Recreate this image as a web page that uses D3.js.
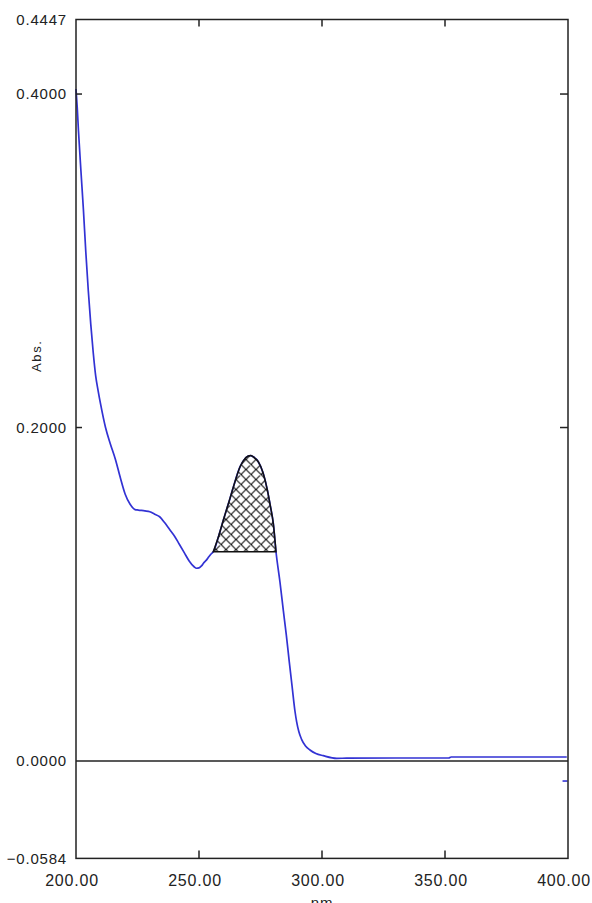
<!DOCTYPE html>
<html>
<head>
<meta charset="utf-8">
<script src="https://cdn.jsdelivr.net/npm/d3@7"></script>
<style>
  body { margin: 0; background: #fff; }
  svg { display: block; }
  .tick-label { font-family: "Liberation Sans", Arial, sans-serif; font-size: 15px; fill: #222; letter-spacing: 0.8px; }
  .x-label { font-size: 16px; letter-spacing: 0.8px; }
</style>
</head>
<body>
<div id="chart"></div>
<script>
// spectrum (nm, Abs.)
var wavelengths = [200, 200.5, 201, 202, 203, 204, 205, 206, 207, 208, 209, 210, 212, 214, 216, 218, 220, 222, 224, 225.3,
  228, 230, 232, 234, 236, 238, 240, 242, 244, 246, 248, 249, 250, 251, 252, 253, 254, 255, 255.8,
  258, 260, 262.6, 264, 266.7, 268, 270, 271, 272, 274.1, 276, 277.8, 279, 280.2, 281.3, 282.9, 284.3,
  285.5, 286.7, 287.9, 289.0, 289.7, 290.6, 291.7, 293.3, 295.1, 297.5, 300.5, 306, 310, 330, 351.5, 352.5, 380, 399.5];
var absorbance = [0.403, 0.392, 0.378, 0.354, 0.331, 0.305, 0.282, 0.262, 0.245, 0.231, 0.222, 0.214, 0.200, 0.190, 0.181, 0.170, 0.160, 0.154, 0.1508, 0.1505,
  0.150, 0.1495, 0.148, 0.1465, 0.143, 0.139, 0.135, 0.130, 0.125, 0.120, 0.1165, 0.1156, 0.1158, 0.117, 0.119, 0.1205, 0.1225, 0.1243, 0.1255,
  0.135, 0.145, 0.1575, 0.1645, 0.1765, 0.180, 0.1829, 0.1832, 0.1825, 0.1795, 0.173, 0.1625, 0.153, 0.1425, 0.1255, 0.1075, 0.090,
  0.0755, 0.0595, 0.044, 0.030, 0.0235, 0.0175, 0.013, 0.009, 0.0066, 0.0045, 0.0032, 0.0016, 0.0017, 0.0018, 0.0018, 0.0024, 0.0024, 0.0024];
// stray point at the end of the scan
var strayWl = [399];
var strayAbs = [-0.012];

// hatched peak
var peakFrom = 255.8;
var peakTo = 281.3;

var xDomain = [200, 400];
var yDomain = [-0.0584, 0.4447];
var xTicks = [200, 250, 300, 350, 400];
var yTicks = [0.4447, 0.4, 0.2, 0, -0.0584];
var xInnerTicks = [250, 300, 350];
var yInnerTicks = [0.4, 0.2];

var svgWidth = 592;
var svgHeight = 903;
var margin = { top: 19.5, right: 24, bottom: 44.6, left: 76 };
var width = svgWidth - margin.left - margin.right;
var height = svgHeight - margin.top - margin.bottom;

var data = wavelengths.map(function(w, i) { return { wl: w, abs: absorbance[i] }; });

var svg = d3.select("#chart").append("svg")
  .attr("width", svgWidth)
  .attr("height", svgHeight);

// cross hatch fill
var defs = svg.append("defs");
var pat = defs.append("pattern")
  .attr("id", "hatch")
  .attr("patternUnits", "userSpaceOnUse")
  .attr("width", 10).attr("height", 10);
pat.append("path").attr("d", "M0,0L10,10M0,10L10,0M-2,2L2,-2M8,12L12,8M-2,8L2,12M8,-2L12,2")
  .attr("stroke", "#111").attr("stroke-width", 1.1);

var chartGroup = svg.append("g")
  .attr("transform", `translate(${margin.left}, ${margin.top})`);

var x = d3.scaleLinear().domain(xDomain).range([0, width]);
var y = d3.scaleLinear().domain(yDomain).range([height, 0]);

// zero line
chartGroup.append("line")
  .attr("x1", 0).attr("x2", width)
  .attr("y1", y(0)).attr("y2", y(0))
  .attr("stroke", "#222").attr("stroke-width", 1.5);

// spectrum
var line = d3.line().x(d => x(d.wl)).y(d => y(d.abs)).curve(d3.curveMonotoneX);
chartGroup.append("path")
  .datum(data)
  .attr("d", line)
  .attr("fill", "none")
  .attr("stroke", "#3232d4")
  .attr("stroke-width", 1.7);

// hatched peak area
var base = absorbance[wavelengths.indexOf(peakFrom)];
var peakData = data.filter(d => d.wl >= peakFrom && d.wl <= peakTo);
var area = d3.area().x(d => x(d.wl)).y0(y(base)).y1(d => y(d.abs)).curve(d3.curveMonotoneX);
chartGroup.append("path")
  .datum(peakData)
  .attr("d", area)
  .attr("fill", "url(#hatch)")
  .attr("stroke", "#111")
  .attr("stroke-width", 1.5);

// stray point
chartGroup.selectAll(".stray")
  .data(strayWl)
  .enter()
  .append("line")
  .attr("x1", d => x(d) - 3)
  .attr("x2", d => x(d) + 2)
  .attr("y1", (d, i) => y(strayAbs[i]))
  .attr("y2", (d, i) => y(strayAbs[i]))
  .attr("stroke", "#3232d4").attr("stroke-width", 1.6);

// frame
chartGroup.append("rect")
  .attr("width", width).attr("height", height)
  .attr("fill", "none")
  .attr("stroke", "#222").attr("stroke-width", 1.5);

// inner ticks
chartGroup.selectAll(".xt-bottom").data(xInnerTicks).enter().append("line")
  .attr("x1", d => x(d)).attr("x2", d => x(d))
  .attr("y1", height).attr("y2", height - 8)
  .attr("stroke", "#222").attr("stroke-width", 1.5);
chartGroup.selectAll(".xt-top").data(xInnerTicks).enter().append("line")
  .attr("x1", d => x(d)).attr("x2", d => x(d))
  .attr("y1", 0).attr("y2", 7)
  .attr("stroke", "#222").attr("stroke-width", 1.5);
chartGroup.selectAll(".yt-left").data(yInnerTicks).enter().append("line")
  .attr("x1", 0).attr("x2", 6)
  .attr("y1", d => y(d)).attr("y2", d => y(d))
  .attr("stroke", "#222").attr("stroke-width", 1.5);
chartGroup.selectAll(".yt-right").data(yInnerTicks).enter().append("line")
  .attr("x1", width - 8).attr("x2", width)
  .attr("y1", d => y(d)).attr("y2", d => y(d))
  .attr("stroke", "#222").attr("stroke-width", 1.5);

// tick labels
chartGroup.selectAll(".ylab").data(yTicks).enter().append("text")
  .attr("class", "tick-label")
  .attr("x", -9)
  .attr("y", d => y(d))
  .attr("dy", "0.36em")
  .attr("text-anchor", "end")
  .text(d => d3.format(".4f")(d));

chartGroup.selectAll(".xlab").data(xTicks).enter().append("text")
  .attr("class", "tick-label x-label")
  .attr("x", d => x(d) - 4)
  .attr("y", height + 28)
  .attr("text-anchor", "middle")
  .text(d => d3.format(".2f")(d));

// axis titles
chartGroup.append("text")
  .attr("class", "tick-label")
  .attr("x", width / 2)
  .attr("y", height + 50)
  .attr("text-anchor", "middle")
  .text("nm");

chartGroup.append("text")
  .attr("font-family", "Liberation Sans, Arial, sans-serif")
  .attr("font-size", "13px")
  .attr("fill", "#222")
  .attr("text-anchor", "middle")
  .attr("transform", `translate(${-35}, ${337}) rotate(-90)`)
  .attr("textLength", 31)
  .text("Abs.");
</script>
</body>
</html>
